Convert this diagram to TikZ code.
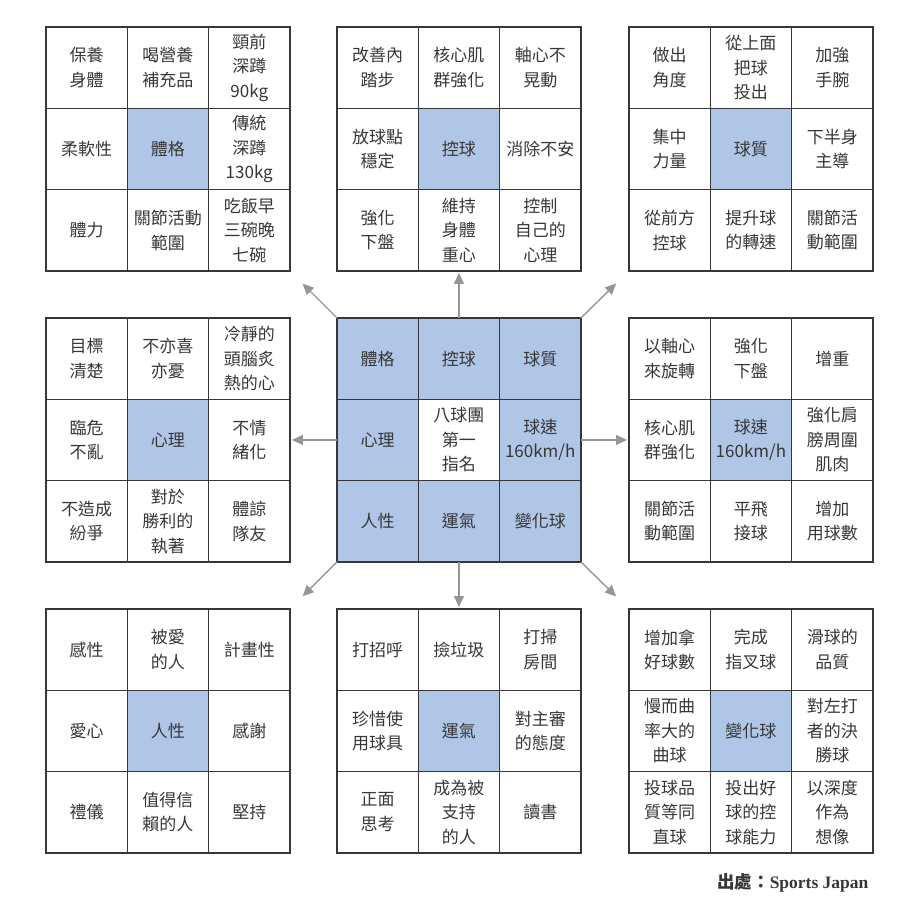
\documentclass[tikz,border=0pt]{standalone}
\usepackage{fontspec}
\setmainfont{Liberation Serif}
\newfontfamily\cjk{Noto Sans CJK TC}
\usetikzlibrary{positioning}
\usetikzlibrary{arrows.meta}

\definecolor{gridblue}{RGB}{176,198,230}
\definecolor{inkgray}{RGB}{55,55,55}
\definecolor{spokegray}{RGB}{150,150,150}

\begin{document}
\begin{tikzpicture}[
        x = 1pt,
        y = -1pt,
        cell/.style = {
            draw = inkgray,
            line width = 1.2pt,
            minimum size = 81.3pt,
            inner sep = 0pt,
            outer sep = 0pt,
            align = center,
            text = inkgray,
            font = \cjk\fontsize{17}{24.5}\selectfont
        },
        hub4/.style = {fill = gridblue},
        ring/.style = {fill = gridblue},
        ring4/.style = {fill = white},
        spoke/.style = {
            draw = spokegray,
            line width = 1.4pt,
            -{Triangle[length=11pt, width=10pt]}
        }
            ]
            \useasboundingbox (0,0) rectangle (922,898);

            % top row
            \foreach \t [count=\i from 0] in {{保養\\身體}, {喝營養\\補充品}, {頸前\\深蹲\\90kg}, 柔軟性, 體格, {傳統\\深蹲\\130kg}, 體力, {關節活動\\範圍}, {吃飯早\\三碗晚\\七碗}}
                \node[cell, hub\i/.try] (phys-\i) at ({46+(mod(\i,3)+0.5)*81.3}, {27+(int(\i/3)+0.5)*81.3}) {\t};
            \foreach \t [count=\i from 0] in {{改善內\\踏步}, {核心肌\\群強化}, {軸心不\\晃動}, {放球點\\穩定}, 控球, 消除不安, {強化\\下盤}, {維持\\身體\\重心}, {控制\\自己的\\心理}}
                \node[cell, hub\i/.try] (ctrl-\i) at ({337+(mod(\i,3)+0.5)*81.3}, {27+(int(\i/3)+0.5)*81.3}) {\t};
            \foreach \t [count=\i from 0] in {{做出\\角度}, {從上面\\把球\\投出}, {加強\\手腕}, {集中\\力量}, 球質, {下半身\\主導}, {從前方\\控球}, {提升球\\的轉速}, {關節活\\動範圍}}
                \node[cell, hub\i/.try] (qual-\i) at ({629+(mod(\i,3)+0.5)*81.3}, {27+(int(\i/3)+0.5)*81.3}) {\t};

            % middle row
            \foreach \t [count=\i from 0] in {{目標\\清楚}, {不亦喜\\亦憂}, {冷靜的\\頭腦炙\\熱的心}, {臨危\\不亂}, 心理, {不情\\緒化}, {不造成\\紛爭}, {對於\\勝利的\\執著}, {體諒\\隊友}}
                \node[cell, hub\i/.try] (mind-\i) at ({46+(mod(\i,3)+0.5)*81.3}, {318+(int(\i/3)+0.5)*81.3}) {\t};
            \foreach \t [count=\i from 0] in {體格, 控球, 球質, 心理, {八球團\\第一\\指名}, {球速\\160km/h}, 人性, 運氣, 變化球}
                \node[cell, ring, ring\i/.try] (core-\i) at ({337+(mod(\i,3)+0.5)*81.3}, {318+(int(\i/3)+0.5)*81.3}) {\t};
            \foreach \t [count=\i from 0] in {{以軸心\\來旋轉}, {強化\\下盤}, 增重, {核心肌\\群強化}, {球速\\160km/h}, {強化肩\\膀周圍\\肌肉}, {關節活\\動範圍}, {平飛\\接球}, {增加\\用球數}}
                \node[cell, hub\i/.try] (speed-\i) at ({629+(mod(\i,3)+0.5)*81.3}, {318+(int(\i/3)+0.5)*81.3}) {\t};

            % bottom row
            \foreach \t [count=\i from 0] in {感性, {被愛\\的人}, 計畫性, 愛心, 人性, 感謝, 禮儀, {值得信\\賴的人}, 堅持}
                \node[cell, hub\i/.try] (kind-\i) at ({46+(mod(\i,3)+0.5)*81.3}, {609+(int(\i/3)+0.5)*81.3}) {\t};
            \foreach \t [count=\i from 0] in {打招呼, 撿垃圾, {打掃\\房間}, {珍惜使\\用球具}, 運氣, {對主審\\的態度}, {正面\\思考}, {成為被\\支持\\的人}, 讀書}
                \node[cell, hub\i/.try] (luck-\i) at ({337+(mod(\i,3)+0.5)*81.3}, {609+(int(\i/3)+0.5)*81.3}) {\t};
            \foreach \t [count=\i from 0] in {{增加拿\\好球數}, {完成\\指叉球}, {滑球的\\品質}, {慢而曲\\率大的\\曲球}, 變化球, {對左打\\者的決\\勝球}, {投球品\\質等同\\直球}, {投出好\\球的控\\球能力}, {以深度\\作為\\想像}}
                \node[cell, hub\i/.try] (curve-\i) at ({629+(mod(\i,3)+0.5)*81.3}, {609+(int(\i/3)+0.5)*81.3}) {\t};

            \draw[spoke, shorten >=2pt] (core-1.north) -- (ctrl-7.south);
            \draw[spoke, shorten >=2pt] (core-3.west) -- (mind-5.east);
            \draw[spoke, shorten >=2pt] (core-5.east) -- (speed-3.west);
            \draw[spoke, shorten >=2pt] (core-7.south) -- (luck-1.north);
            \draw[spoke, shorten >=18pt] (core-0.north west) -- (phys-8.south east);
            \draw[spoke, shorten >=18pt] (core-2.north east) -- (qual-6.south west);
            \draw[spoke, shorten >=18pt] (core-6.south west) -- (kind-2.north east);
            \draw[spoke, shorten >=18pt] (core-8.south east) -- (curve-0.north west);

            \node[anchor=base east, font=\fontsize{17.5}{20}\selectfont\bfseries, text=inkgray] (source) at (872,888) {{\cjk 出處：}Sports Japan};

        \end{tikzpicture}
\end{document}
